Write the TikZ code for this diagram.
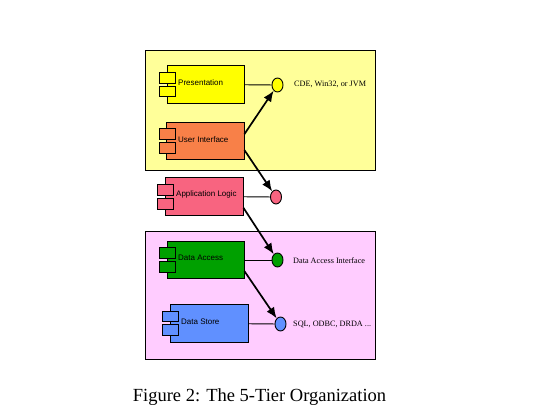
\documentclass[tikz,border=0pt]{standalone}
\usepackage{fontspec}
\setmainfont{Liberation Serif}
\setsansfont{Liberation Sans}
\usetikzlibrary{arrows.meta,shapes.geometric}

\tikzset{
    panel/.style={draw, line width=0.9pt, minimum width=230pt, inner sep=0pt},
    comp/.style={draw, line width=0.9pt, minimum width=78pt, minimum height=37.5pt, inner sep=0pt},
    tab/.style={draw, line width=0.9pt, minimum width=16pt, minimum height=10.5pt, inner sep=0pt},
    iface/.style={draw, line width=0.9pt, ellipse, minimum width=11pt, minimum height=14pt, inner sep=0pt},
    lbl/.style={font=\sffamily\fontsize{8}{10}\selectfont, inner sep=0pt, anchor=west},
    note/.style={font=\fontsize{8.2}{9}\selectfont, inner sep=0pt, anchor=west},
    link/.style={line width=0.9pt},
    dep/.style={line width=1.7pt, -{Latex[length=11pt,width=9pt]}}
}
\definecolor{panelyellow}{RGB}{255,255,153}
\definecolor{panelpink}{RGB}{255,204,255}
\definecolor{presfill}{RGB}{255,255,0}
\definecolor{uifill}{RGB}{248,128,72}
\definecolor{appfill}{RGB}{248,100,128}
\definecolor{accfill}{RGB}{0,160,0}
\definecolor{storefill}{RGB}{96,144,255}

\begin{document}
\begin{tikzpicture}[x=1pt,y=-1pt]
    \useasboundingbox (0,0) rectangle (558,407);

    % panely
    \node[panel, fill=panelyellow, minimum height=120.5pt] (top) at (260.5,110.25) {};
    \node[panel, fill=panelpink, minimum height=128pt] (bottom) at (260.5,295) {};

    % komponenty
    \node[comp, fill=presfill, minimum width=77pt] (pres) at (205.5,84.5) {};
    \node[comp, fill=uifill] (ui) at (205,141) {};
    \node[comp, fill=appfill] (app) at (204,196.5) {};
    \node[comp, fill=accfill, minimum width=77pt] (acc) at (205.5,260) {};
    \node[comp, fill=storefill] (store) at (209,323.5) {};

    % zalozky
    \node[tab, fill=presfill] (pres1) at (167,78) {};
    \node[tab, fill=presfill] (pres2) at (167,91.5) {};
    \node[tab, fill=uifill] (ui1) at (167,134) {};
    \node[tab, fill=uifill] (ui2) at (167,148) {};
    \node[tab, fill=appfill] (app1) at (165.5,190) {};
    \node[tab, fill=appfill] (app2) at (165.5,204) {};
    \node[tab, fill=accfill] (acc1) at (167,253) {};
    \node[tab, fill=accfill] (acc2) at (167,267) {};
    \node[tab, fill=storefill] (store1) at (170,316.5) {};
    \node[tab, fill=storefill] (store2) at (170,330) {};

    % popisky
    \node[lbl] (preslbl) at (178,82.5) {Presentation};
    \node[lbl] (uilbl) at (178,139.5) {User Interface};
    \node[lbl] (applbl) at (176,194.5) {Application Logic};
    \node[lbl] (acclbl) at (178,257.5) {Data Access};
    \node[lbl] (storelbl) at (181,321.5) {Data Store};

    % rozhrani
    \node[iface, fill=presfill] (presc) at (277.5,85) {};
    \node[iface, fill=appfill] (appc) at (276,197) {};
    \node[iface, fill=accfill] (accc) at (277.5,260) {};
    \node[iface, fill=storefill] (storec) at (280.5,324) {};

    \node[note] (presnote) at (294,84.5) {CDE, Win32, or JVM};
    \node[note] (accnote) at (293,261) {Data Access Interface};
    \node[note] (storenote) at (293,324.5) {SQL, ODBC, DRDA ...};

    % spojnice
    \draw[link] (pres) -- (presc);
    \draw[link] (app) -- (appc);
    \draw[link] (acc) -- (accc);
    \draw[link] (store) -- (storec);

    % sipky
    \draw[dep] (ui.10) -- (presc);
    \draw[dep] (ui.-13) -- (appc);
    \draw[dep] (app.-16) -- (accc);
    \draw[dep] (acc.-16) -- (storec);

    \node[font=\fontsize{18.5}{20}\selectfont, inner sep=0pt] (caption) at (259.5,397.5) {Figure 2: The 5-Tier Organization};
\end{tikzpicture}
\end{document}
